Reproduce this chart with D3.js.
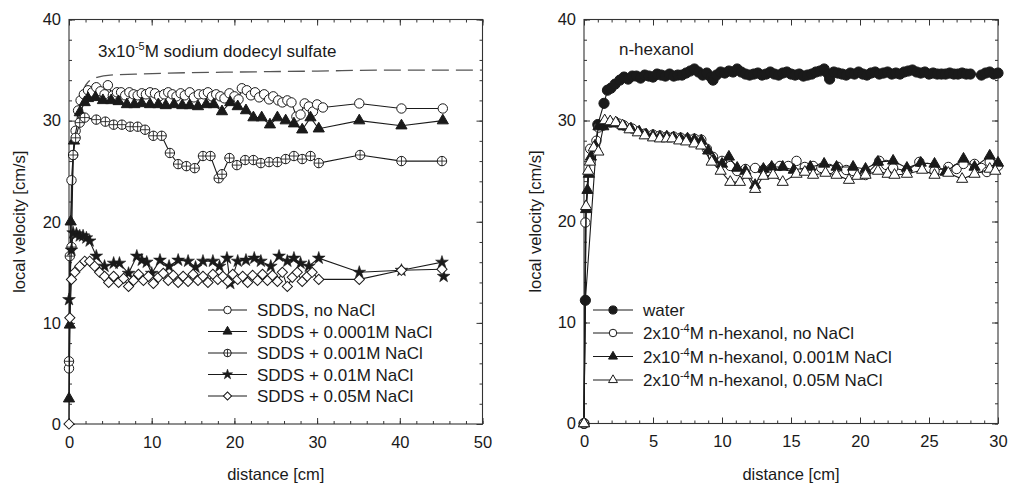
<!DOCTYPE html>
<html><head><meta charset="utf-8">
<script src="https://cdn.jsdelivr.net/npm/d3@7"></script>
<style>
body{margin:0;background:#fff;}
text{font-family:"Liberation Sans",Arial,Helvetica,sans-serif;fill:#1a1a1a;}
</style></head>
<body><svg id="c" width="1009" height="484"></svg>
<script>
// ---------- Left panel data: distance [cm], local velocity [cm/s] ----------
const sddsNoNaCl = [[0,5.5],[0.3,24.1],[0.5,26.6],[0.8,29.0],[1.1,31.0],[1.4,32.0],[1.8,32.6],[2.3,33.0],[2.8,32.8],[3.3,33.3],[3.8,32.9],[4.3,32.6],[4.7,33.5],[5.3,32.5],[5.8,32.8],[6.3,32.8],[6.8,32.5],[7.3,32.8],[7.8,32.6],[8.3,32.5],[8.8,32.7],[9.3,32.6],[9.8,32.8],[10.4,32.7],[10.9,32.4],[11.5,32.6],[12.0,32.8],[12.5,32.6],[13.0,32.4],[13.5,32.7],[14.0,32.5],[14.6,32.8],[15.1,32.3],[15.7,32.6],[16.3,32.6],[16.8,32.8],[17.3,32.4],[17.8,32.6],[18.3,32.4],[18.8,32.2],[19.4,32.7],[20.0,32.4],[20.5,32.1],[20.9,33.2],[21.5,33.0],[22.0,32.5],[22.5,32.8],[23.0,32.3],[23.6,32.6],[24.2,32.1],[24.7,32.4],[25.3,32.0],[25.8,31.8],[26.4,32.0],[26.9,31.8],[27.5,30.4],[28.0,30.6],[28.5,31.7],[29.0,31.4],[29.5,30.9],[30.0,31.6],[30.7,31.3],[35.1,31.7],[40.2,31.2],[45.2,31.2]];
const sdds00001 = [[0,2.5],[0.1,9.8],[0.2,20.0],[0.6,28.0],[1.3,30.8],[1.9,31.8],[2.3,32.2],[3.2,32.3],[4.1,32.0],[5.1,32.0],[6.0,31.9],[7.0,31.6],[7.9,31.6],[8.8,31.7],[9.8,31.6],[10.8,31.6],[11.7,31.5],[12.7,31.6],[13.7,31.5],[14.6,31.5],[15.6,31.4],[16.6,31.6],[17.5,31.6],[18.5,30.9],[19.5,31.8],[20.4,31.4],[21.4,31.0],[22.3,30.3],[23.3,30.3],[24.3,29.6],[25.2,30.3],[26.2,30.0],[27.2,29.7],[28.2,29.1],[29.2,30.3],[30.2,29.2],[35.1,30.0],[40.2,29.5],[45.2,30.0]];
const sdds0001 = [[0,6.2],[0.1,16.6],[0.3,17.5],[0.5,26.6],[0.8,28.3],[1.3,29.8],[1.9,30.3],[3.3,30.1],[4.4,29.9],[5.4,29.6],[6.4,29.6],[7.4,29.4],[8.3,29.4],[9.2,29.1],[10.2,28.5],[11.2,28.5],[12.2,26.8],[13.2,25.7],[14.2,25.5],[15.2,25.3],[16.2,26.5],[17.1,26.5],[18.1,24.3],[18.5,24.7],[19.4,26.3],[20.3,25.6],[21.3,26.1],[22.3,26.1],[23.2,25.8],[24.2,25.9],[25.2,25.9],[26.2,26.2],[27.2,26.5],[28.2,26.2],[29.2,26.5],[30.2,25.8],[35.2,26.6],[40.2,26.0],[45.1,26.0]];
const sdds001 = [[0,12.3],[0.3,17.2],[0.5,18.9],[0.9,18.8],[1.3,18.6],[1.7,18.6],[2.1,18.4],[2.5,18.1],[3.3,16.6],[4.3,15.6],[5.4,15.9],[6.1,15.9],[7.2,14.9],[8.2,16.6],[8.8,16.2],[9.4,16.0],[10.0,14.9],[11.0,16.2],[12.1,15.6],[13.2,16.2],[14.4,16.1],[15.3,15.5],[16.2,16.1],[17.4,16.1],[18.2,15.6],[19.1,16.4],[19.5,13.9],[20.4,16.1],[21.4,16.2],[22.4,16.4],[23.2,16.1],[24.4,15.6],[25.4,16.6],[26.4,16.1],[27.2,16.4],[28.0,15.9],[29.0,15.6],[30.2,16.4],[35.1,15.0],[40.2,15.2],[45.1,16.0],[45.3,14.6]];
const sdds005 = [[0,0],[0.1,10.5],[0.3,14.3],[0.7,15.0],[1.3,15.6],[1.9,16.1],[2.5,16.1],[3.1,15.6],[3.7,15.0],[4.3,14.6],[4.8,14.0],[5.4,14.6],[6.0,14.0],[6.6,14.4],[7.2,13.6],[7.8,14.2],[8.4,14.8],[9.0,14.2],[9.6,14.6],[10.2,13.9],[10.8,14.5],[11.4,14.9],[12.0,14.2],[12.6,14.7],[13.2,14.0],[13.8,14.6],[14.4,14.1],[15.0,14.8],[15.6,14.2],[16.2,14.6],[16.8,14.0],[17.4,14.8],[18.0,14.3],[18.6,14.6],[19.2,14.1],[19.8,14.8],[20.4,14.3],[21.0,14.6],[21.6,14.0],[22.2,14.7],[22.8,14.2],[23.4,14.8],[24.0,14.2],[24.6,14.7],[25.2,14.1],[25.8,15.0],[26.4,13.6],[27.0,14.5],[27.6,15.0],[28.2,14.1],[28.8,14.6],[29.4,15.0],[30.2,14.3],[35.1,14.3],[40.2,15.2],[45.1,15.3]];
const waterRefDashed = [[1.6,32.5],[1.9,33.3],[2.3,33.8],[2.8,34.1],[3.5,34.3],[5,34.5],[8,34.6],[12,34.7],[20,34.8],[30,34.9],[38,35.0],[45,35.0],[50,35.0]];
const leftLabels = ["SDDS, no NaCl","SDDS + 0.0001M NaCl","SDDS + 0.001M NaCl","SDDS + 0.01M NaCl","SDDS + 0.05M NaCl"];

// ---------- Right panel data ----------
const water = [[0,0],[0.1,12.2],[1.0,29.6],[1.45,31.7],[1.7,33.0],[1.95,33.2],[2.25,33.6],[2.6,34.0],[2.9,34.3],[3.2,34.1],[3.5,34.4],[3.8,34.4],[4.1,34.2],[4.4,34.5],[4.7,34.4],[5.0,34.3],[5.3,34.6],[5.6,34.5],[5.9,34.4],[6.2,34.6],[6.5,34.4],[6.8,34.5],[7.1,34.5],[7.4,34.7],[7.7,34.9],[8.0,35.1],[8.3,34.8],[8.6,34.5],[8.9,34.7],[9.2,34.3],[9.35,34.0],[9.6,34.5],[9.9,34.8],[10.2,34.7],[10.5,34.9],[10.8,34.8],[11.1,35.1],[11.4,34.8],[11.7,34.6],[12.0,34.5],[12.3,34.6],[12.6,34.7],[12.9,34.5],[13.2,34.6],[13.5,34.8],[13.8,34.6],[14.1,34.5],[14.4,34.7],[14.7,34.8],[15.0,34.6],[15.3,34.5],[15.6,34.6],[15.9,34.4],[16.2,34.5],[16.5,34.6],[16.8,34.8],[17.1,34.9],[17.4,35.1],[17.7,34.6],[17.8,34.1],[18.1,34.8],[18.4,34.7],[18.7,34.6],[19.0,34.5],[19.3,34.7],[19.6,34.6],[19.9,34.8],[20.2,34.6],[20.5,34.5],[20.8,34.7],[21.1,34.8],[21.4,34.6],[21.7,34.7],[22.0,34.8],[22.3,34.6],[22.6,34.7],[22.9,34.6],[23.2,34.8],[23.5,34.9],[23.8,35.0],[24.1,34.8],[24.4,34.7],[24.7,34.8],[25.0,34.6],[25.3,34.7],[25.6,34.6],[25.9,34.6],[26.2,34.6],[26.5,34.7],[26.8,34.6],[27.1,34.6],[27.4,34.7],[27.7,34.6],[28.0,34.6],[28.8,34.5],[29.1,34.7],[29.4,34.8],[29.7,34.6],[30.0,34.7]];
const hexNoNaCl = [[0,0],[0.1,19.9],[0.45,27.2],[0.9,28.0],[1.05,29.3],[1.4,29.5],[1.9,29.8],[2.5,29.7],[2.9,29.5],[3.5,29.2],[4.4,28.7],[5.0,28.6],[5.5,28.5],[6.0,28.4],[6.5,28.4],[7.0,28.3],[7.5,28.2],[8.0,28.2],[8.5,28.1],[8.9,27.2],[9.35,26.4],[10.0,26.0],[10.6,25.5],[11.1,25.0],[11.7,25.2],[12.4,25.3],[13.0,25.1],[13.6,25.3],[14.2,25.5],[14.8,25.5],[15.4,26.0],[16.0,25.4],[16.6,25.5],[17.2,25.3],[17.8,25.2],[18.4,25.4],[19.0,25.1],[19.5,25.0],[20.4,24.6],[21.4,26.0],[21.9,25.6],[22.4,25.3],[23.4,25.0],[24.3,25.9],[24.9,25.3],[25.4,25.0],[26.4,25.4],[27.0,25.2],[27.5,25.7],[28.3,25.7],[28.8,25.3],[29.2,24.9],[29.4,25.9],[30.0,25.5]];
const hex0001 = [[0,0],[0.15,21.2],[0.25,23.1],[0.35,24.7],[0.5,26.4],[0.8,27.5],[1.05,29.4],[1.4,29.4],[1.9,29.7],[2.4,29.7],[2.9,29.4],[3.4,29.2],[4.0,28.9],[4.5,28.6],[5.0,28.5],[5.5,28.4],[6.0,28.4],[6.5,28.3],[7.0,28.2],[7.5,28.2],[8.0,28.1],[8.5,28.0],[9.0,27.0],[9.4,26.1],[10.0,25.7],[10.5,26.4],[11.1,25.3],[11.7,25.0],[12.4,23.6],[13.0,25.2],[13.6,25.4],[14.4,25.4],[15.2,25.1],[16.4,25.4],[17.4,25.7],[18.3,25.4],[19.5,25.4],[20.4,25.2],[21.3,25.9],[22.4,26.0],[23.4,25.3],[24.4,25.8],[25.4,25.7],[26.2,24.9],[27.5,26.2],[28.3,25.4],[29.4,26.5],[30.0,25.8]];
const hex005 = [[0,0],[0.15,21.5],[0.3,25.0],[0.43,25.9],[0.7,27.3],[1.04,26.9],[1.5,30.0],[1.9,29.9],[2.3,29.8],[2.8,29.5],[3.3,29.1],[3.9,28.8],[4.4,28.5],[5.0,28.3],[5.5,28.2],[6.0,28.2],[6.4,28.2],[6.9,28.0],[7.4,27.9],[8.0,27.7],[8.5,27.5],[9.25,25.9],[9.9,25.0],[10.6,23.9],[11.3,23.9],[11.8,24.6],[12.4,23.2],[13.0,24.5],[13.7,24.6],[14.4,23.9],[15.4,24.7],[16.0,24.9],[16.6,24.6],[17.5,24.8],[18.3,24.6],[19.2,24.1],[19.8,24.5],[20.4,24.6],[21.3,25.0],[22.0,24.7],[22.5,24.6],[23.4,24.7],[24.5,25.1],[25.4,24.6],[26.4,24.8],[27.4,24.2],[28.3,24.7],[29.4,25.2],[29.8,25.0]];

// ---------- Axis ticks ----------
const leftXTicks = [0,10,20,30,40,50];
const rightXTicks = [0,5,10,15,20,25,30];
const yTicks = [0,10,20,30,40];

const svg = d3.select("#c");
const INK = "#1a1a1a";

function marker(g, type, x, y, s){
  s = s || 1;
  if(type==="circle"||type==="fcircle"){
    g.append("circle").attr("cx",x).attr("cy",y).attr("r",(type==="fcircle"?5.1:4.7)*s)
     .attr("fill",type==="fcircle"?INK:"#fff").attr("stroke",INK).attr("stroke-width",1);
  } else if(type==="cross"){
    const r=4.7*s;
    g.append("circle").attr("cx",x).attr("cy",y).attr("r",r).attr("fill","#fff").attr("stroke",INK).attr("stroke-width",1);
    g.append("path").attr("d",`M${x-r},${y}H${x+r}M${x},${y-r}V${y+r}`).attr("stroke",INK).attr("stroke-width",0.85);
  } else if(type==="tri"||type==="ftri"){
    g.append("path").attr("transform",`translate(${x},${y})`)
     .attr("d",d3.symbol(d3.symbolTriangle,54*s*s)())
     .attr("fill",type==="ftri"?INK:"#fff").attr("stroke",INK).attr("stroke-width",1);
  } else if(type==="star"){
    g.append("path").attr("transform",`translate(${x},${y})`)
     .attr("d",d3.symbol(d3.symbolStar,50*s*s)())
     .attr("fill",INK).attr("stroke",INK).attr("stroke-width",0.6);
  } else if(type==="diamond"){
    g.append("path").attr("transform",`translate(${x},${y}) rotate(45)`)
     .attr("d",d3.symbol(d3.symbolSquare,52*s*s)())
     .attr("fill","#fff").attr("stroke",INK).attr("stroke-width",1);
  }
}

function panel(cfg){
  const g = svg.append("g");
  const x = cfg.x, y = cfg.y;
  const [x0,x1] = x.range(), [y0,y1] = y.range();
  const mk = (axis, tr) => g.append("g").attr("transform",tr).call(axis)
      .call(a=>{a.select(".domain").remove(); a.selectAll("line").attr("stroke","#333");
        a.selectAll("text").attr("font-size",16.5).attr("fill",INK).style("font-family",'"Liberation Sans",Arial,sans-serif');});
  mk(d3.axisBottom(x).tickValues(cfg.xMinor).tickSize(-3).tickFormat(""), `translate(0,${y0})`);
  mk(d3.axisBottom(x).tickValues(cfg.xTicks).tickSize(-6).tickPadding(12).tickFormat(d3.format("d")), `translate(0,${y0})`);
  mk(d3.axisTop(x).tickValues(cfg.xMinor).tickSize(-3).tickFormat(""), `translate(0,${y1})`);
  mk(d3.axisTop(x).tickValues(cfg.xTicks).tickSize(-6).tickFormat(""), `translate(0,${y1})`);
  mk(d3.axisLeft(y).tickValues(cfg.yMinor).tickSize(-3).tickFormat(""), `translate(${x0},0)`);
  mk(d3.axisLeft(y).tickValues(yTicks).tickSize(-6).tickPadding(8).tickFormat(d3.format("d")), `translate(${x0},0)`);
  mk(d3.axisRight(y).tickValues(cfg.yMinor).tickSize(-3).tickFormat(""), `translate(${x1},0)`);
  mk(d3.axisRight(y).tickValues(yTicks).tickSize(-6).tickFormat(""), `translate(${x1},0)`);
  g.append("rect").attr("x",x0).attr("y",y1).attr("width",x1-x0).attr("height",y0-y1)
   .attr("fill","none").attr("stroke","#333").attr("stroke-width",1.1);

  const line = d3.line().x(d=>x(d[0])).y(d=>y(d[1]));
  if(cfg.dashed){
    g.append("path").attr("d",line.curve(d3.curveMonotoneX)(cfg.dashed)).attr("fill","none")
     .attr("stroke","#555").attr("stroke-width",1.3).attr("stroke-dasharray","17,7");
    line.curve(d3.curveLinear);
  }
  cfg.series.forEach(s=>{
    const sg = g.append("g");
    sg.append("path").attr("d",line(s.data)).attr("fill","none").attr("stroke",INK).attr("stroke-width",1.1);
    s.data.forEach(d=>marker(sg, s.type, x(d[0]), y(d[1])));
  });
  const L = cfg.legend;
  cfg.series.forEach((s,i)=>{
    const cy = L.rows[i];
    g.append("line").attr("x1",L.x1).attr("x2",L.x2).attr("y1",cy).attr("y2",cy).attr("stroke",INK).attr("stroke-width",1);
    marker(g, s.type, (L.x1+L.x2)/2, cy, 0.8);
    const t = g.append("text").attr("x",L.tx).attr("y",cy+6).attr("font-size",17);
    s.label(t);
  });
  g.append("text").attr("x",(x0+x1)/2).attr("y",480).attr("text-anchor","middle").attr("font-size",16.5).text("distance [cm]");
  g.append("text").attr("transform",`translate(${cfg.yTitleX},${(y0+y1)/2}) rotate(-90)`)
   .attr("text-anchor","middle").attr("dominant-baseline","central").attr("font-size",16.5).text("local velocity [cm/s]");
  return g;
}
function sup(t, a, b, c){
  t.append("tspan").text(a);
  t.append("tspan").attr("font-size",11).attr("dy",-7).text(b);
  t.append("tspan").attr("dy",7).text(c);
}

const xL = d3.scaleLinear().domain([0,50]).range([69,482.5]);
const yL = d3.scaleLinear().domain([0,40]).range([424,19.5]);
const gl = panel({
  x:xL, y:yL, xTicks:leftXTicks, xMinor:d3.range(0,51,2), yMinor:d3.range(0,41,2),
  dashed: waterRefDashed, yTitleX:19,
  series:[
    {data:sddsNoNaCl, type:"circle", label:t=>t.text(leftLabels[0])},
    {data:sdds00001, type:"ftri", label:t=>t.text(leftLabels[1])},
    {data:sdds0001, type:"cross", label:t=>t.text(leftLabels[2])},
    {data:sdds001, type:"star", label:t=>t.text(leftLabels[3])},
    {data:sdds005, type:"diamond", label:t=>t.text(leftLabels[4])}
  ],
  legend:{x1:208, x2:247, tx:257, rows:[310,331.5,353,374.5,396]}
});
sup(gl.append("text").attr("x",98).attr("y",57).attr("font-size",17), "3x10", "-5", "M sodium dodecyl sulfate");

const xR = d3.scaleLinear().domain([0,30]).range([584,998]);
const yR = d3.scaleLinear().domain([0,40]).range([423.5,19.5]);
const gr = panel({
  x:xR, y:yR, xTicks:rightXTicks, xMinor:d3.range(0,31,1), yMinor:d3.range(0,41,2),
  yTitleX:535,
  series:[
    {data:water, type:"fcircle", label:t=>t.text("water")},
    {data:hexNoNaCl, type:"circle", label:t=>sup(t,"2x10","-4","M n-hexanol, no NaCl")},
    {data:hex0001, type:"ftri", label:t=>sup(t,"2x10","-4","M n-hexanol, 0.001M NaCl")},
    {data:hex005, type:"tri", label:t=>sup(t,"2x10","-4","M n-hexanol, 0.05M NaCl")}
  ],
  legend:{x1:593, x2:633, tx:643, rows:[310,333,356.5,380]}
});
gr.append("text").attr("x",619).attr("y",55).attr("font-size",17).text("n-hexanol");
</script></body></html>
